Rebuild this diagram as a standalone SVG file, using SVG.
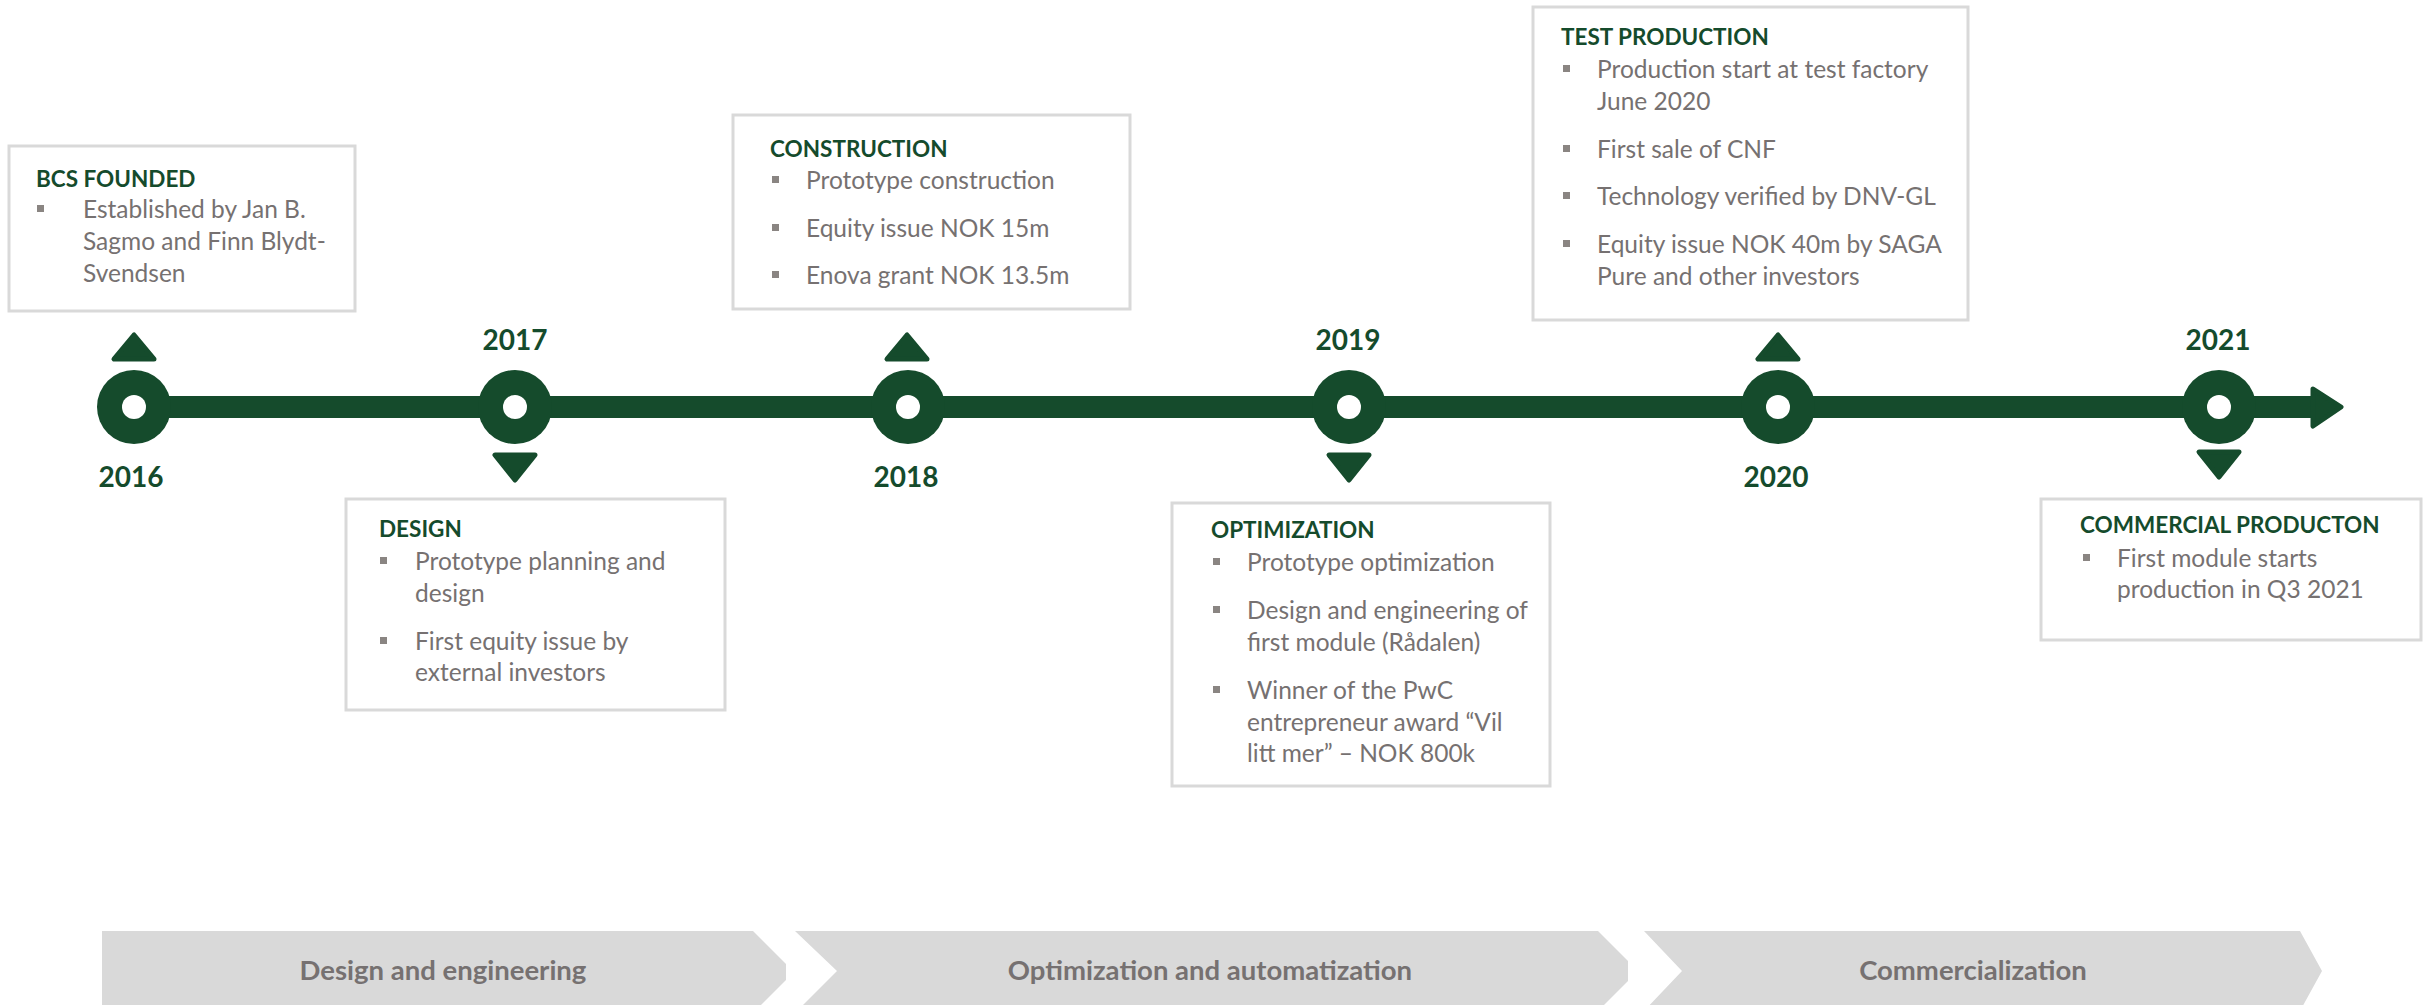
<svg xmlns="http://www.w3.org/2000/svg" width="2430" height="1005" viewBox="0 0 2430 1005">
<style>
.box{fill:#fff;stroke:#D9D9D9;stroke-width:3}
.ttl{font-family:Lato,"Open Sans",sans-serif;font-weight:bold;font-size:22.5px;fill:#154B2C}
.txt{font-family:Lato,"Open Sans",sans-serif;font-size:24.5px;fill:#767171}
.yr{font-family:Lato,"Open Sans",sans-serif;font-weight:bold;font-size:28px;fill:#154B2C;text-anchor:middle}
.bul{fill:#8A8582}
.tri{fill:#154B2C;stroke:#154B2C;stroke-width:5;stroke-linejoin:round}
.dot{fill:#154B2C}
.hole{fill:#fff}
.bar{fill:#154B2C}
.chev{fill:#D9D9D9}
.ph{font-family:Lato,"Open Sans",sans-serif;font-weight:bold;font-size:27.5px;fill:#767171;text-anchor:middle}
</style>
<defs>
<rect id="b" class="bul" width="7" height="7"/>
</defs>

<g id="connectors">
<rect class="bar" x="134" y="396" width="2182" height="22"/>
<polygon class="tri" points="2313,389 2341,407 2313,426"/>
</g>

<g id="m2016">
<circle class="dot" cx="134" cy="407" r="37"/><circle class="hole" cx="134" cy="407" r="12"/>
<polygon class="tri" points="134,335 114,359 154,359"/>
<text class="yr" x="131" y="487">2016</text>
<rect class="box" x="9" y="146" width="346" height="165"/>
<text class="ttl" x="36" y="187">BCS FOUNDED</text>
<use href="#b" x="37" y="205"/>
<text class="txt" x="83" y="218">Established by Jan B.</text>
<text class="txt" x="83" y="250">Sagmo and Finn Blydt-</text>
<text class="txt" x="83" y="282">Svendsen</text>
</g>

<g id="m2017">
<circle class="dot" cx="515" cy="407" r="37"/><circle class="hole" cx="515" cy="407" r="12"/>
<polygon class="tri" points="495,455 535,455 515,480"/>
<text class="yr" x="515" y="350">2017</text>
<rect class="box" x="346" y="499" width="379" height="211"/>
<text class="ttl" x="379" y="537">DESIGN</text>
<use href="#b" x="380" y="557"/>
<text class="txt" x="415" y="570">Prototype planning and</text>
<text class="txt" x="415" y="602">design</text>
<use href="#b" x="380" y="637"/>
<text class="txt" x="415" y="650">First equity issue by</text>
<text class="txt" x="415" y="681">external investors</text>
</g>

<g id="m2018">
<circle class="dot" cx="908" cy="407" r="37"/><circle class="hole" cx="908" cy="407" r="12"/>
<polygon class="tri" points="907,335 887,359 927,359"/>
<text class="yr" x="906" y="487">2018</text>
<rect class="box" x="733" y="115" width="397" height="194"/>
<text class="ttl" x="770" y="157">CONSTRUCTION</text>
<use href="#b" x="772" y="176"/>
<text class="txt" x="806" y="189">Prototype construction</text>
<use href="#b" x="772" y="224"/>
<text class="txt" x="806" y="237">Equity issue NOK 15m</text>
<use href="#b" x="772" y="271"/>
<text class="txt" x="806" y="284">Enova grant NOK 13.5m</text>
</g>

<g id="m2019">
<circle class="dot" cx="1349" cy="407" r="37"/><circle class="hole" cx="1349" cy="407" r="12"/>
<polygon class="tri" points="1329,455 1369,455 1349,480"/>
<text class="yr" x="1348" y="350">2019</text>
<rect class="box" x="1172" y="503" width="378" height="283"/>
<text class="ttl" x="1211" y="538">OPTIMIZATION</text>
<use href="#b" x="1213" y="558"/>
<text class="txt" x="1247" y="571">Prototype optimization</text>
<use href="#b" x="1213" y="606"/>
<text class="txt" x="1247" y="619">Design and engineering of</text>
<text class="txt" x="1247" y="651">first module (Rådalen)</text>
<use href="#b" x="1213" y="686"/>
<text class="txt" x="1247" y="699">Winner of the PwC</text>
<text class="txt" x="1247" y="731">entrepreneur award “Vil</text>
<text class="txt" x="1247" y="762">litt mer” – NOK 800k</text>
</g>

<g id="m2020">
<circle class="dot" cx="1778" cy="407" r="37"/><circle class="hole" cx="1778" cy="407" r="12"/>
<polygon class="tri" points="1778,335 1758,359 1798,359"/>
<text class="yr" x="1776" y="487">2020</text>
<rect class="box" x="1533" y="7" width="435" height="313"/>
<text class="ttl" x="1561" y="45">TEST PRODUCTION</text>
<use href="#b" x="1563" y="65"/>
<text class="txt" x="1597" y="78">Production start at test factory</text>
<text class="txt" x="1597" y="110">June 2020</text>
<use href="#b" x="1563" y="145"/>
<text class="txt" x="1597" y="158">First sale of CNF</text>
<use href="#b" x="1563" y="192"/>
<text class="txt" x="1597" y="205">Technology verified by DNV-GL</text>
<use href="#b" x="1563" y="240"/>
<text class="txt" x="1597" y="253">Equity issue NOK 40m by SAGA</text>
<text class="txt" x="1597" y="285">Pure and other investors</text>
</g>

<g id="m2021">
<circle class="dot" cx="2219" cy="407" r="37"/><circle class="hole" cx="2219" cy="407" r="12"/>
<polygon class="tri" points="2199,452 2239,452 2219,477"/>
<text class="yr" x="2218" y="350">2021</text>
<rect class="box" x="2041" y="499" width="380" height="141"/>
<text class="ttl" x="2080" y="533">COMMERCIAL PRODUCTON</text>
<use href="#b" x="2083" y="554"/>
<text class="txt" x="2117" y="567">First module starts</text>
<text class="txt" x="2117" y="598">production in Q3 2021</text>
</g>

<g id="phase1">
<polygon class="chev" points="102,931 753,931 786,964 786,980 755,1011 102,1011"/>
<text class="ph" x="443" y="980">Design and engineering</text>
</g>
<g id="phase2">
<polygon class="chev" points="795,931 1598,931 1628,961 1628,981 1598,1011 797,1011 837,971"/>
<text class="ph" x="1210" y="980">Optimization and automatization</text>
</g>
<g id="phase3">
<polygon class="chev" points="1644,931 2300,931 2322,971 2300,1011 1644,1011 1682,971"/>
<text class="ph" x="1973" y="980">Commercialization</text>
</g>
</svg>
